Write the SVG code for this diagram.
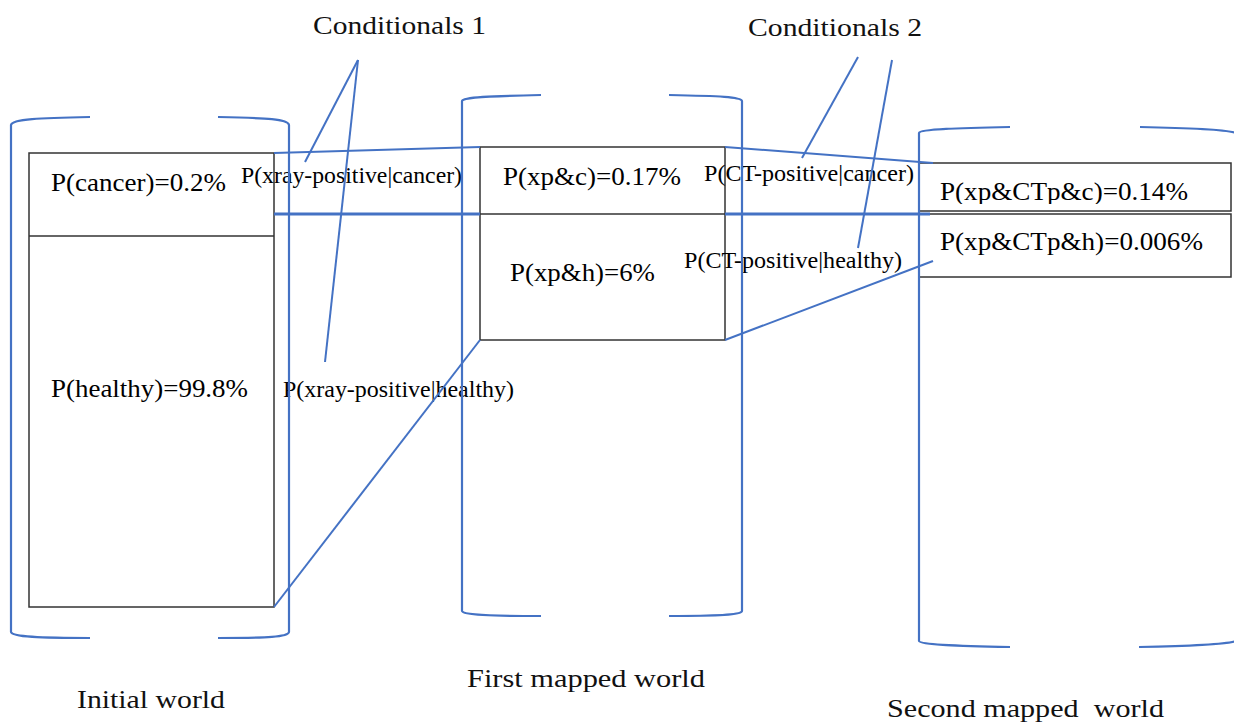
<svg xmlns="http://www.w3.org/2000/svg" width="1234" height="723" viewBox="0 0 1234 723">
<style>
.br{fill:none;stroke:#4472C4;stroke-width:2.2}
.ln{fill:none;stroke:#4472C4;stroke-width:2}
.thick{fill:none;stroke:#4472C4;stroke-width:2.8}
.box{fill:#fff;stroke:#333;stroke-width:1.5}
text{font-family:"Liberation Serif","Times New Roman",serif;fill:#000}
.b{font-size:26px}
.l{font-size:23px}
.c{font-size:25px;fill:#111}
</style>
<defs>
<clipPath id="clipR1"><rect x="919" y="163" width="312" height="41"/></clipPath>
</defs>
<rect width="1234" height="723" fill="#fff"/>

<g id="initial-world">
<rect class="box" x="29" y="153" width="245" height="454"/>
<line x1="29" y1="236" x2="274" y2="236" stroke="#333" stroke-width="1.5"/>
<text class="b" font-family="Liberation Serif, serif" x="51" y="191" textLength="175" lengthAdjust="spacingAndGlyphs">P(cancer)=0.2%</text>
<text class="b" font-family="Liberation Serif, serif" x="51" y="397" textLength="197" lengthAdjust="spacingAndGlyphs">P(healthy)=99.8%</text>
</g>

<g id="first-mapped-world">
<rect class="box" x="480" y="147" width="245" height="193"/>
<line x1="480" y1="214" x2="725" y2="214" stroke="#333" stroke-width="1.5"/>
<text class="b" font-family="Liberation Serif, serif" x="503" y="185" textLength="178" lengthAdjust="spacingAndGlyphs">P(xp&amp;c)=0.17%</text>
<text class="b" font-family="Liberation Serif, serif" x="510" y="281" textLength="145" lengthAdjust="spacingAndGlyphs">P(xp&amp;h)=6%</text>
</g>

<g id="second-mapped-world">
<rect class="box" x="919" y="163" width="312" height="48"/>
<rect class="box" x="919" y="214" width="312" height="63"/>
<text class="b" font-family="Liberation Serif, serif" x="940" y="200" textLength="248" lengthAdjust="spacingAndGlyphs" clip-path="url(#clipR1)">P(xp&amp;CTp&amp;c)=0.14%</text>
<text class="b" font-family="Liberation Serif, serif" x="940" y="250" textLength="263" lengthAdjust="spacingAndGlyphs">P(xp&amp;CTp&amp;h)=0.006%</text>
</g>

<g id="labels">
<text class="l" x="241" y="183" textLength="221" lengthAdjust="spacingAndGlyphs">P(xray-positive|cancer)</text>
<text class="l" x="283" y="397" textLength="231" lengthAdjust="spacingAndGlyphs">P(xray-positive|healthy)</text>
<text class="l" x="704" y="181" textLength="210" lengthAdjust="spacingAndGlyphs">P(CT-positive|cancer)</text>
<text class="l" x="684" y="268" textLength="218" lengthAdjust="spacingAndGlyphs">P(CT-positive|healthy)</text>
<text class="c" x="313" y="34" textLength="173" lengthAdjust="spacingAndGlyphs">Conditionals 1</text>
<text class="c" x="748" y="36" textLength="174" lengthAdjust="spacingAndGlyphs">Conditionals 2</text>
<text class="c" x="77" y="708" textLength="148" lengthAdjust="spacingAndGlyphs">Initial world</text>
<text class="c" x="467" y="687" textLength="238" lengthAdjust="spacingAndGlyphs">First mapped world</text>
<text class="c" x="887" y="717" textLength="277" lengthAdjust="spacingAndGlyphs" xml:space="preserve">Second mapped  world</text>
</g>

<g id="brackets">
<path class="br" d="M90,117 C40,118 12,119 11,125 V632 C12,637 40,638 90,638"/>
<path class="br" d="M218,117 C268,118 288,119 289,125 V632 C288,637 268,638 218,638"/>
<path class="br" d="M541,95 C490,96 463,97 462,101 V611 C463,615 490,616 541,616"/>
<path class="br" d="M669,95 C720,96 741,97 742,101 V611 C741,615 720,616 669,616"/>
<path class="br" d="M1010,127 C960,128 920,129 919,133 V641 C920,645 960,646 1010,647"/>
<path class="br" d="M1140,127 C1190,128 1228,130 1236,133"/>
<path class="br" d="M1139,647 C1190,646 1228,644 1236,641"/>
</g>

<g id="connectors">
<line class="ln" x1="274" y1="153" x2="480" y2="147"/>
<line class="thick" x1="274" y1="214" x2="480" y2="214"/>
<line class="ln" x1="274" y1="607" x2="480" y2="340"/>
<line class="ln" x1="725" y1="147" x2="933" y2="163"/>
<line class="thick" x1="725" y1="214" x2="930" y2="214"/>
<line class="ln" x1="725" y1="340" x2="933" y2="261"/>
<line class="ln" x1="358" y1="60" x2="305" y2="162"/>
<line class="ln" x1="358" y1="60" x2="325" y2="362"/>
<line class="ln" x1="858" y1="57" x2="802" y2="158"/>
<line class="ln" x1="892" y1="60" x2="858" y2="248"/>
</g>
</svg>
